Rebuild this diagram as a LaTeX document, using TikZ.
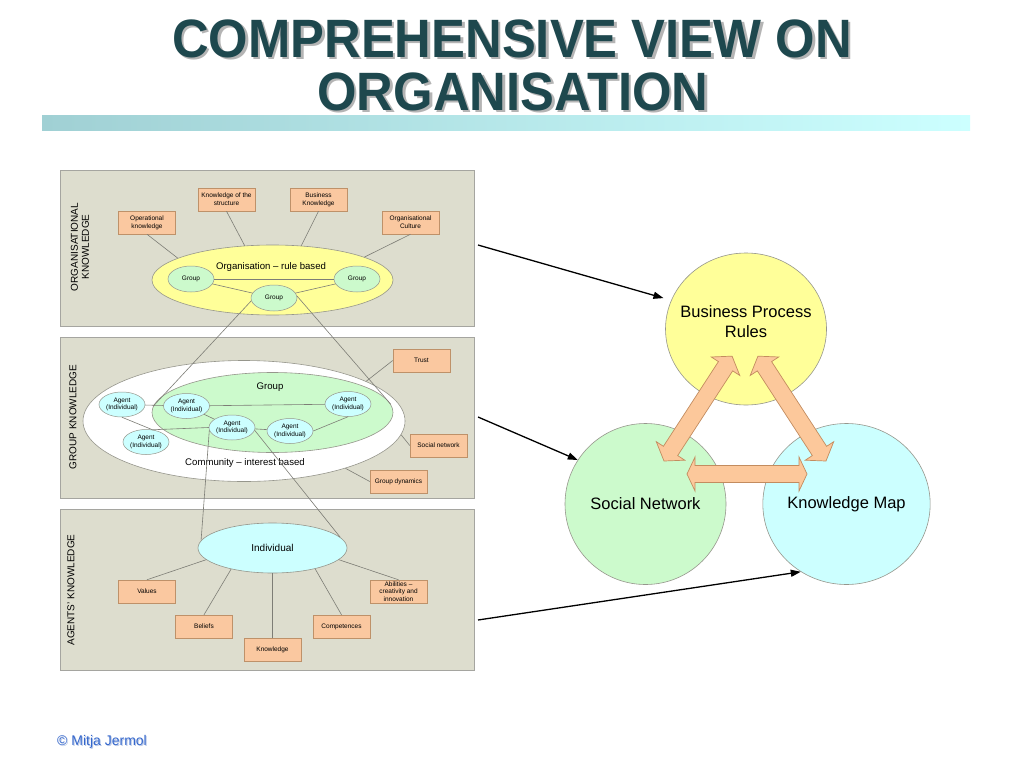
\documentclass[tikz,border=0pt]{standalone}
\usepackage{fontspec}
\setmainfont{Liberation Sans}
\usetikzlibrary{shapes.geometric,arrows.meta}
\definecolor{panelfill}{RGB}{221,221,206}
\definecolor{panelline}{RGB}{165,165,160}
\definecolor{boxfill}{RGB}{250,200,160}
\definecolor{boxline}{RGB}{190,145,105}
\definecolor{yel}{RGB}{255,255,153}
\definecolor{grn}{RGB}{204,250,204}
\definecolor{cyn}{RGB}{204,255,255}
\definecolor{ellline}{RGB}{150,150,140}
\definecolor{conngray}{RGB}{125,125,118}
\definecolor{titlecol}{RGB}{30,72,78}
\definecolor{titleshadow}{RGB}{180,180,180}
\definecolor{barleft}{RGB}{160,208,212}
\definecolor{barright}{RGB}{204,255,255}
\definecolor{arrfill}{RGB}{252,200,155}
\definecolor{arrline}{RGB}{195,140,95}
\definecolor{footblue}{RGB}{51,102,204}
\definecolor{footshadow}{RGB}{185,200,230}
\tikzset{
  ttl/.style={anchor=base, inner sep=0, font=\fontsize{54}{60}\selectfont\bfseries},
  panel/.style={draw=panelline, fill=panelfill, line width=0.6, anchor=north west, minimum width=414, inner sep=0},
  obox/.style={draw=boxline, fill=boxfill, line width=0.5, minimum width=57, minimum height=23, inner sep=0, align=center, font=\fontsize{6.5}{7.7}\selectfont},
  gell/.style={ellipse, draw=ellline, fill=grn, line width=0.5, minimum width=46, minimum height=26, inner sep=0, font=\fontsize{6.5}{7.7}\selectfont},
  agent/.style={ellipse, draw=ellline, fill=cyn, line width=0.5, minimum width=46, minimum height=25, inner sep=0, align=center, font=\fontsize{6.5}{7.7}\selectfont},
  bigell/.style={ellipse, draw=ellline, line width=0.6, inner sep=0},
  lbl/.style={inner sep=0, font=\fontsize{9.6}{11}\selectfont},
  plabel/.style={rotate=90, inner sep=0, align=center, font=\fontsize{10}{11}\selectfont},
  conn/.style={draw=conngray, line width=0.6},
  rcirc/.style={ellipse, draw=ellline, line width=0.6, inner sep=0, minimum width=161, minimum height=161, font=\fontsize{16.5}{20}\selectfont},
  barrow/.style={draw=arrline, fill=arrfill, line width=0.7, line join=miter},
  blk/.style={draw=black, line width=1.3, -{Triangle[length=10pt,width=7pt]}}
}
\begin{document}
\begin{tikzpicture}[x=1pt,y=-1pt]
\useasboundingbox (0,0) rectangle (1024,768);
\fill[white] (0,0) rectangle (1024,768);

% ---------- title ----------
\node[ttl, text=titleshadow] (t1s) at (514.5,59.5) {\scalebox{0.94}[1]{COMPREHENSIVE VIEW ON}};
\node[ttl, text=titlecol] (t1) at (512,57) {\scalebox{0.94}[1]{COMPREHENSIVE VIEW ON}};
\node[ttl, text=titleshadow] (t2s) at (515.5,112.5) {\scalebox{0.94}[1]{ORGANISATION}};
\node[ttl, text=titlecol] (t2) at (513,110) {\scalebox{0.94}[1]{ORGANISATION}};
\shade[left color=barleft, right color=barright] (42,115) rectangle (970,130);

% ---------- panels ----------
\node[panel, minimum height=156] (p1) at (60,170) {};
\node[panel, minimum height=161] (p2) at (60,337) {};
\node[panel, minimum height=161] (p3) at (60,509) {};
\node[plabel] (l1) at (80,247) {ORGANISATIONAL\\KNOWLEDGE};
\node[plabel] (l2) at (73,417) {GROUP KNOWLEDGE};
\node[plabel] (l3) at (71,590) {AGENTS' KNOWLEDGE};

% ---------- big ellipses ----------
\node[bigell, fill=yel, minimum width=241, minimum height=70] (org) at (272.5,280) {};
\node[bigell, fill=white, minimum width=322, minimum height=121] (com) at (244,421) {};
\node[bigell, fill=grn, minimum width=241, minimum height=80] (grp) at (272.5,412.5) {};
\node[bigell, fill=cyn, minimum width=149, minimum height=50, font=\fontsize{10}{12}\selectfont] (ind) at (272.5,548) {Individual};

% ---------- panel 1 ----------
\node[obox] (ks) at (226.5,199.5) {Knowledge of the\\structure};
\node[obox] (bk) at (318.5,199.5) {Business\\Knowledge};
\node[obox] (ok) at (147,222.5) {Operational\\knowledge};
\node[obox] (oc) at (410.5,222.5) {Organisational\\Culture};
\node[lbl] (orgt) at (271,267) {Organisation -- rule based};
\node[gell] (g1) at (191,279) {Group};
\node[gell] (g2) at (357,279) {Group};
\node[gell] (g3) at (274,298) {Group};

% ---------- panel 2 ----------
\node[lbl] (grpt) at (270,387) {Group};
\node[lbl] (comt) at (245,463) {Community -- interest based};
\node[agent] (a1) at (122,404.5) {Agent\\(Individual)};
\node[agent] (a2) at (186.5,406) {Agent\\(Individual)};
\node[agent] (a3) at (232,427.5) {Agent\\(Individual)};
\node[agent] (a4) at (290,431) {Agent\\(Individual)};
\node[agent] (a5) at (348,404) {Agent\\(Individual)};
\node[agent] (a6) at (146,442) {Agent\\(Individual)};
\node[obox] (tr) at (421.5,360.5) {Trust};
\node[obox] (sn) at (438.5,445.5) {Social network};
\node[obox] (gd) at (398.5,481.5) {Group dynamics};

% ---------- panel 3 ----------
\node[obox] (va) at (147,591.5) {Values};
\node[obox] (be) at (204,626.5) {Beliefs};
\node[obox] (kn) at (272.5,650) {Knowledge};
\node[obox] (co) at (341.5,626.5) {Competences};
\node[obox] (ab) at (398.5,591.5) {Abilities --\\creativity and\\innovation};

% ---------- connectors, left ----------
\draw[conn] (ok.south) -- (org.167);
\draw[conn] (ks.south) -- (org.129);
\draw[conn] (bk.south) -- (org.50);
\draw[conn] (oc.south) -- (org.14);
\draw[conn] (g1) -- (g2);
\draw[conn] (g1) -- (g3);
\draw[conn] (g3) -- (g2);
\draw[conn] (g3.187) -- (grp.177);
\draw[conn] (g3.5) -- (grp.4);
\draw[conn] (a1) -- (a2);
\draw[conn] (a2) -- (a5);
\draw[conn] (a2) -- (a3);
\draw[conn] (a1.south) -- (a6.62);
\draw[conn] (a6.62) -- (a3.west);
\draw[conn] (a3) -- (a4);
\draw[conn] (a4.east) -- (a5.south);
\draw[conn] (tr.west) -- (com.18);
\draw[conn] (sn.west) -- (com.355);
\draw[conn] (gd.west) -- (com.335);
\draw[conn] (a3.187) -- (ind.174);
\draw[conn] (a3.353) -- (ind.9);
\draw[conn] (va.north) -- (ind.190);
\draw[conn] (be.north) -- (ind.207);
\draw[conn] (kn.north) -- (ind.south);
\draw[conn] (co.north) -- (ind.334);
\draw[conn] (ab.north) -- (ind.350);

% ---------- right side ----------
\node[rcirc, fill=yel, minimum height=152] (bpr) at (746,329) {};
\node[rcirc, fill=grn] (snw) at (645.5,504) {Social Network};
\node[rcirc, fill=cyn] (km) at (846.5,504) {Knowledge Map};
\node[inner sep=0, align=center, font=\fontsize{16.5}{20}\selectfont] (bprt) at (746,322) {Business Process\\Rules};

\coordinate (ar1) at (664,461);
\coordinate (ar2) at (826,461);
\coordinate (ar3) at (687,474);
\begin{scope}[shift={(ar1)}, rotate=57]
\draw[barrow] (0,0) -- (12,17) -- (12,8.5) -- (113,8.5) -- (113,17) -- (125,0) -- (113,-17) -- (113,-8.5) -- (12,-8.5) -- (12,-17) -- cycle;
\end{scope}
\begin{scope}[shift={(ar2)}, rotate=123]
\draw[barrow] (0,0) -- (12,17) -- (12,8.5) -- (113,8.5) -- (113,17) -- (125,0) -- (113,-17) -- (113,-8.5) -- (12,-8.5) -- (12,-17) -- cycle;
\end{scope}
\begin{scope}[shift={(ar3)}]
\draw[barrow] (0,0) -- (8,17) -- (8,8.5) -- (112,8.5) -- (112,17) -- (120,0) -- (112,-17) -- (112,-8.5) -- (8,-8.5) -- (8,-17) -- cycle;
\end{scope}

% ---------- black arrows ----------
\coordinate (s1) at (478,245);
\coordinate (s2) at (478,417);
\coordinate (s3) at (478,620);
\draw[blk, shorten >=8pt] (s1) -- (bpr.159);
\draw[blk] (s2) -- (snw.147);
\draw[blk] (s3) -- (km.236);

% ---------- footer ----------
\node[anchor=base west, inner sep=0, font=\fontsize{14}{16}\selectfont, text=footshadow] (fts) at (58,746) {© Mitja Jermol};
\node[anchor=base west, inner sep=0, font=\fontsize{14}{16}\selectfont, text=footblue] (ft) at (57,745) {© Mitja Jermol};
\end{tikzpicture}
\end{document}
